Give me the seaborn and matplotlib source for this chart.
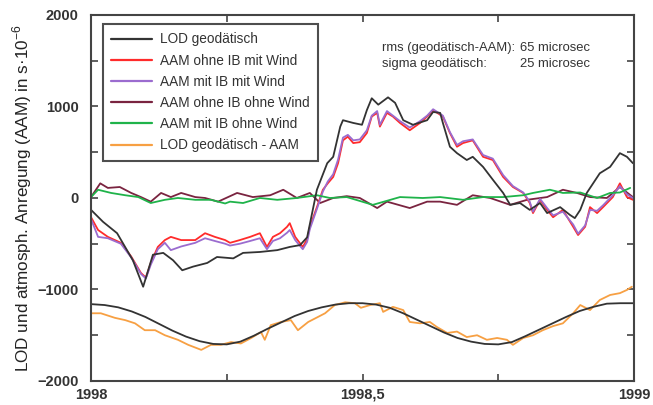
import numpy as np
import matplotlib
matplotlib.use('Agg')
import matplotlib.pyplot as plt
from matplotlib.ticker import MultipleLocator, FixedLocator, FixedFormatter
from matplotlib.lines import Line2D
import seaborn as sns

# ─── Daten (Zeit als Jahresbruchteil ab 1998.0, Werte in s·10^-6) ───
t_lod = [0.000, 0.022, 0.048, 0.077, 0.096, 0.114, 0.133, 0.151, 0.168, 0.188,
         0.214, 0.232, 0.262, 0.280, 0.311, 0.343, 0.366, 0.385, 0.398, 0.416,
         0.435, 0.446, 0.459, 0.464, 0.483, 0.499, 0.508, 0.517, 0.529, 0.547,
         0.560, 0.575, 0.593, 0.619, 0.630, 0.643, 0.648, 0.661, 0.674, 0.692,
         0.703, 0.722, 0.740, 0.759, 0.772, 0.790, 0.808, 0.827, 0.840, 0.864,
         0.882, 0.891, 0.901, 0.913, 0.937, 0.956, 0.974, 0.987, 0.998]
lod = [-130, -260, -385, -680, -970, -620, -600, -680, -790, -750,
       -710, -645, -660, -600, -590, -570, -535, -515, -430, 90,
       380, 450, 780, 850, 820, 800, 960, 1090, 1020, 1100,
       1040, 850, 800, 850, 940, 930, 820, 560, 490, 415,
       450, 340, 200, 55, -75, -55, -130, -55, -165, -100,
       -185, -220, -130, 55, 270, 340, 490, 450, 380]

t_wind = [0.000, 0.013, 0.031, 0.055, 0.074, 0.092, 0.101, 0.110, 0.123, 0.136,
          0.147, 0.166, 0.192, 0.210, 0.228, 0.247, 0.256, 0.274, 0.293, 0.311,
          0.324, 0.335, 0.348, 0.361, 0.366, 0.376, 0.390, 0.398, 0.403, 0.416,
          0.427, 0.436, 0.446, 0.455, 0.464, 0.473, 0.483, 0.495, 0.508, 0.517,
          0.527, 0.532, 0.545, 0.556, 0.569, 0.587, 0.606, 0.619, 0.630, 0.648,
          0.661, 0.674, 0.685, 0.703, 0.722, 0.740, 0.759, 0.777, 0.796, 0.808,
          0.814, 0.827, 0.840, 0.851, 0.869, 0.888, 0.897, 0.910, 0.919, 0.932,
          0.943, 0.961, 0.974, 0.987, 0.998]
aam_ohne_ib_wind = [-210, -350, -425, -490, -640, -820, -870, -710, -535, -460,
                    -425, -460, -460, -385, -425, -460, -490, -460, -425, -385,
                    -535, -425, -385, -315, -275, -425, -535, -450, -315, -100,
                    90, 160, 230, 380, 630, 670, 600, 610, 710, 890,
                    930, 780, 930, 890, 820, 740, 820, 890, 960, 890,
                    710, 560, 600, 630, 450, 415, 230, 120, 55, -55,
                    -165, -20, -130, -210, -130, -315, -405, -315, -100, -165,
                    -100, 10, 160, 10, -20]
aam_mit_ib_wind = [-230, -425, -440, -500, -650, -830, -880, -730, -560, -490,
                   -570, -530, -490, -440, -470, -500, -520, -500, -470, -440,
                   -560, -470, -440, -380, -350, -460, -560, -480, -340, -120,
                   70, 180, 260, 420, 660, 690, 630, 640, 740, 900,
                   950, 800, 950, 900, 840, 770, 840, 900, 970, 900,
                   720, 580, 620, 640, 470, 430, 250, 130, 60, -40,
                   -150, -10, -110, -190, -150, -290, -390, -300, -130, -140,
                   -80, 30, 130, 40, 0]

t_brown = [0.000, 0.017, 0.031, 0.053, 0.074, 0.092, 0.110, 0.129, 0.147, 0.166,
           0.192, 0.210, 0.234, 0.269, 0.298, 0.330, 0.354, 0.379, 0.403, 0.422,
           0.446, 0.471, 0.495, 0.527, 0.545, 0.587, 0.619, 0.643, 0.674, 0.703,
           0.735, 0.772, 0.803, 0.840, 0.869, 0.895, 0.919, 0.950, 0.974, 0.998]
aam_ohne_ib_ohne_wind = [10, 160, 110, 120, 55, 10, -40, 55, 10, 55,
                         10, 0, -40, 55, 10, 30, 90, 0, 55, -55,
                         0, 20, 0, -110, -40, -110, -40, -40, -75, 30,
                         0, -75, -20, 10, 90, 55, 10, 0, 120, 10]

t_green = [0.000, 0.013, 0.037, 0.063, 0.087, 0.110, 0.136, 0.160, 0.192, 0.221,
           0.247, 0.256, 0.280, 0.311, 0.343, 0.379, 0.416, 0.440, 0.471, 0.519,
           0.569, 0.611, 0.643, 0.685, 0.722, 0.759, 0.796, 0.814, 0.845, 0.869,
           0.901, 0.932, 0.956, 0.974, 0.993]
aam_mit_ib_ohne_wind = [10, 90, 55, 30, 10, -55, -20, 0, -20, -20,
                        -60, -40, -55, 0, -20, 0, 30, 0, 10, -75,
                        10, 0, 10, -20, 10, 10, 30, 55, 90, 55,
                        60, 0, 55, 60, 110]

t_diff = [0.000, 0.018, 0.044, 0.063, 0.081, 0.099, 0.118, 0.136, 0.160, 0.179,
          0.203, 0.221, 0.239, 0.258, 0.276, 0.295, 0.313, 0.320, 0.331, 0.350,
          0.368, 0.381, 0.400, 0.418, 0.431, 0.449, 0.468, 0.486, 0.497, 0.514,
          0.532, 0.538, 0.556, 0.575, 0.587, 0.606, 0.624, 0.637, 0.656, 0.674,
          0.692, 0.711, 0.729, 0.748, 0.766, 0.777, 0.796, 0.814, 0.832, 0.851,
          0.869, 0.888, 0.901, 0.919, 0.937, 0.956, 0.974, 0.987, 0.996]
lod_minus_aam = [-1260, -1260, -1310, -1335, -1370, -1445, -1445, -1500, -1550, -1605,
                 -1660, -1605, -1605, -1575, -1590, -1530, -1465, -1550, -1390, -1355,
                 -1335, -1445, -1355, -1300, -1260, -1170, -1140, -1150, -1200, -1170,
                 -1150, -1245, -1190, -1225, -1355, -1370, -1355, -1410, -1475, -1460,
                 -1520, -1500, -1550, -1530, -1550, -1605, -1530, -1500, -1445, -1400,
                 -1370, -1260, -1170, -1225, -1115, -1060, -1040, -1005, -970]

t_fit = [0.000, 0.025, 0.050, 0.075, 0.100, 0.125, 0.150, 0.175, 0.200, 0.225,
         0.250, 0.275, 0.300, 0.325, 0.350, 0.375, 0.400, 0.425, 0.450, 0.475,
         0.500, 0.525, 0.550, 0.575, 0.600, 0.625, 0.650, 0.675, 0.700, 0.725,
         0.750, 0.775, 0.800, 0.825, 0.850, 0.875, 0.900, 0.925, 0.950, 0.975, 1.000]
fit = [-1160, -1170, -1195, -1240, -1300, -1375, -1450, -1515, -1565, -1595,
       -1600, -1570, -1505, -1430, -1360, -1290, -1235, -1195, -1165, -1150,
       -1150, -1165, -1200, -1260, -1330, -1400, -1470, -1530, -1570, -1595,
       -1600, -1575, -1510, -1440, -1370, -1300, -1235, -1190, -1155, -1150, -1150]

labels = ["LOD geodätisch", "AAM ohne IB mit Wind", "AAM mit IB mit Wind",
          "AAM ohne IB ohne Wind", "AAM mit IB ohne Wind", "LOD geodätisch - AAM"]
colors = ["#333333", "#ff2b2b", "#9b6ccf", "#7a2440", "#1fb34a", "#f7a043"]

# ─── Stil ───
sns.set_style("ticks")
plt.rcParams['font.family'] = ['Liberation Sans', 'DejaVu Sans']
plt.rcParams['mathtext.fontset'] = 'custom'
plt.rcParams['mathtext.rm'] = 'Liberation Sans'

fig = plt.figure(figsize=(6.53, 4.05), dpi=100)
ax = fig.add_axes([0.1394, 0.0593, 0.8315, 0.9037])

lw = 1.3
series = [
    (t_brown, aam_ohne_ib_ohne_wind, colors[3]),
    (t_wind, aam_ohne_ib_wind, colors[1]),
    (t_wind, aam_mit_ib_wind, colors[2]),
    (t_green, aam_mit_ib_ohne_wind, colors[4]),
    (t_lod, lod, colors[0]),
    (t_diff, lod_minus_aam, colors[5]),
    (t_fit, fit, colors[0]),
]
for t, v, c in series:
    sns.lineplot(x=1998 + np.array(t), y=v, ax=ax, color=c, lw=lw, sort=False)

ax.set_xlim(1998, 1999)
ax.set_ylim(-2000, 2000)
ax.xaxis.set_major_locator(FixedLocator([1998, 1998.5, 1999]))
ax.xaxis.set_major_formatter(FixedFormatter(["1998", "1998,5", "1999"]))
ax.xaxis.set_minor_locator(MultipleLocator(0.25))
ax.yaxis.set_major_locator(MultipleLocator(1000))
ax.yaxis.set_minor_locator(MultipleLocator(500))
ax.tick_params(which='both', direction='in', top=True, right=True,
               color='#444444', width=1.2, length=5)
ax.tick_params(axis='x', which='major', labelsize=10.5, pad=5)
ax.tick_params(axis='y', which='major', labelsize=10.5, pad=9)
for lab in ax.get_xticklabels() + ax.get_yticklabels():
    lab.set_fontweight('bold')
    lab.set_color('#333333')
for sp in ax.spines.values():
    sp.set_linewidth(1.5)
    sp.set_color('#444444')

ax.set_ylabel("LOD und atmosph. Anregung (AAM) in s·10$^{\\mathregular{-6}}$",
              fontsize=12.3, color='#222222', labelpad=2)

handles = [Line2D([0], [0], color=c, lw=1.6) for c in colors]
leg = ax.legend(handles, labels, loc='upper left', bbox_to_anchor=(0.022, 0.975),
                borderaxespad=0, fontsize=9.8, frameon=True, fancybox=False,
                handlelength=3.0, handletextpad=0.6, labelspacing=0.53,
                borderpad=0.6)
leg.get_frame().set_edgecolor('#222222')
leg.get_frame().set_linewidth(1.5)
for txt in leg.get_texts():
    txt.set_color('#333333')

note_fs = 9.4
ax.text(0.535, 0.91, "rms (geodätisch-AAM):", transform=ax.transAxes,
        fontsize=note_fs, color='#333333', va='center')
ax.text(0.79, 0.91, "65 microsec", transform=ax.transAxes,
        fontsize=note_fs, color='#333333', va='center')
ax.text(0.535, 0.866, "sigma geodätisch:", transform=ax.transAxes,
        fontsize=note_fs, color='#333333', va='center')
ax.text(0.79, 0.866, "25 microsec", transform=ax.transAxes,
        fontsize=note_fs, color='#333333', va='center')

fig.savefig("out.png", dpi=100)
plt.close(fig)
